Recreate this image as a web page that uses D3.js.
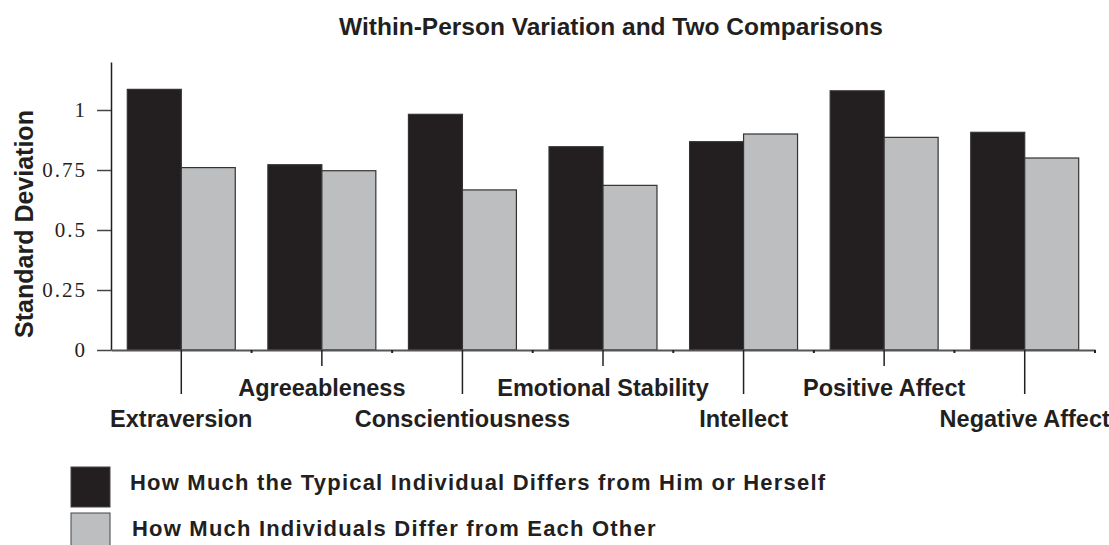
<!DOCTYPE html>
<html>
<head>
<meta charset="utf-8">
<script src="https://cdn.jsdelivr.net/npm/d3@7"></script>
<style>
  body { margin: 0; background: #fff; }
  svg { display: block; }
  .ylab { font-family: 'Liberation Serif', 'Times New Roman', serif; font-size: 21px; letter-spacing: 2px; fill: #231f20; }
</style>
</head>
<body>
<svg id="sdChart"></svg>
<script>
// data
let categories = ['Extraversion', 'Agreeableness', 'Conscientiousness', 'Emotional Stability',
                  'Intellect', 'Positive Affect', 'Negative Affect'];
let withinPerson = [1.086, 0.772, 0.982, 0.847, 0.868, 1.080, 0.907];
let betweenPerson = [0.760, 0.747, 0.667, 0.686, 0.900, 0.886, 0.800];
let yTicks = [0, 0.25, 0.5, 0.75, 1];
let yTickLabels = ['0', '0.25', '0.5', '0.75', '1'];
let seriesNames = ['How Much the Typical Individual Differs from Him or Herself',
                   'How Much Individuals Differ from Each Other'];
let seriesColors = ['#231f20', '#bcbec0'];
let chartTitle = 'Within-Person Variation and Two Comparisons';
let yTitle = 'Standard Deviation';

// svg size
let widthSVG = 1109;
let heightSVG = 545;
let margins = {
  top: 62,
  bottom: 195,
  right: 14,
  left: 111
}
let width = widthSVG - margins.left - margins.right;
let height = heightSVG - margins.top - margins.bottom;

let SVG = d3.select('svg#sdChart')
            .attr('width', widthSVG)
            .attr('height', heightSVG);

let SVGG = SVG.append('g')
              .attr('transform', `translate(${margins.left}, ${margins.top})`);

let sans = "'Liberation Sans', Arial, Helvetica, sans-serif";

// scales
let x = d3.scaleBand()
          .domain(categories)
          .range([0, width])
          .paddingInner(0.232)
          .paddingOuter(0.116);

let xSub = d3.scaleBand()
             .domain([0, 1])
             .range([0, x.bandwidth()]);

let y = d3.scaleLinear()
          .domain([0, 1.2])
          .range([height, 0]);

// title
SVG.append('text')
   .text(chartTitle)
   .attr('x', 611)
   .attr('y', 35)
   .style('text-anchor', 'middle')
   .style('font-family', sans)
   .style('font-weight', 'bold')
   .style('font-size', '24.5px')
   .style('fill', '#231f20');

// y axis title
SVG.append('text')
   .text(yTitle)
   .attr('transform', `translate(33, ${margins.top + y(0.525)}) rotate(-90)`)
   .style('text-anchor', 'middle')
   .style('font-family', sans)
   .style('font-weight', 'bold')
   .style('font-size', '25px')
   .style('fill', '#231f20');

// bars
let barGroups = SVGG.selectAll('g.barGroup')
                    .data(categories)
                    .enter()
                    .append('g')
                    .classed('barGroup', true)
                    .attr('transform', d => `translate(${x(d)}, 0)`);

barGroups.selectAll('rect')
         .data((d, i) => [withinPerson[i], betweenPerson[i]])
         .enter()
         .append('rect')
         .attr('x', (d, j) => xSub(j))
         .attr('width', xSub.bandwidth())
         .attr('y', d => y(d))
         .attr('height', d => y(0) - y(d))
         .style('fill', (d, j) => seriesColors[j])
         .style('stroke', '#333')
         .style('stroke-width', '1.2px');

// y axis, labels drawn separately in serif
let yAxis = SVGG.append('g')
                .attr('class', 'y axis')
                .call(d3.axisLeft(y)
                        .tickValues(yTicks)
                        .tickSize(14)
                        .tickSizeOuter(0)
                        .tickFormat(''));

yAxis.select('.domain').style('stroke', '#231f20').style('stroke-width', '1.5px');
yAxis.selectAll('.tick line').style('stroke', '#444').style('stroke-width', '1.5px');

SVGG.append('g')
    .selectAll('text')
    .data(yTicks)
    .enter()
    .append('text')
    .attr('class', 'ylab')
    .text((d, i) => yTickLabels[i])
    .attr('x', -24)
    .attr('y', d => y(d))
    .attr('dy', '0.34em')
    .style('text-anchor', 'end');

// x axis, ticks alternate in length so labels can sit on two rows
let xAxis = SVGG.append('g')
                .attr('class', 'x axis')
                .attr('transform', `translate(0, ${height})`)
                .call(d3.axisBottom(x)
                        .tickSizeOuter(0)
                        .tickSize(0));

xAxis.select('.domain').style('stroke', '#555').style('stroke-width', '2px');
xAxis.selectAll('.tick line')
     .attr('y2', (d, i) => i % 2 == 0 ? 44 : 16)
     .style('stroke', '#231f20')
     .style('stroke-width', '1.5px');
xAxis.selectAll('.tick text')
     .attr('y', (d, i) => i % 2 == 0 ? 77 : 46)
     .attr('dy', 0)
     .style('font-family', sans)
     .style('font-weight', 'bold')
     .style('font-size', '23.5px')
     .style('fill', '#231f20');

// little ticks on the band boundaries
SVGG.append('g')
    .selectAll('line')
    .data(categories)
    .enter()
    .append('line')
    .attr('x1', d => x(d) + x.bandwidth() + x.step() * x.paddingInner() / 2)
    .attr('x2', d => x(d) + x.bandwidth() + x.step() * x.paddingInner() / 2)
    .attr('y1', height)
    .attr('y2', height + 3)
    .style('stroke', '#231f20')
    .style('stroke-width', '2px');

// legend
let legend = SVG.append('g')
                .attr('transform', 'translate(71, 467)');

let legendItems = legend.selectAll('g')
                        .data(seriesNames)
                        .enter()
                        .append('g')
                        .attr('transform', (d, i) => `translate(0, ${i * 46})`);

legendItems.append('rect')
           .attr('width', 39)
           .attr('height', 40)
           .style('fill', (d, i) => seriesColors[i])
           .style('stroke', '#444')
           .style('stroke-width', '1px');

legendItems.append('text')
           .text(d => d)
           .attr('x', (d, i) => i == 0 ? 59 : 61)
           .attr('y', 23)
           .style('font-family', sans)
           .style('font-weight', 'bold')
           .style('font-size', '22px')
           .style('letter-spacing', '1.2px')
           .style('fill', '#231f20');
</script>
</body>
</html>
